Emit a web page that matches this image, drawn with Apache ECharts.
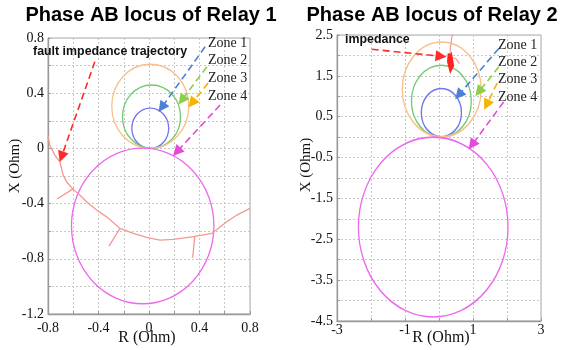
<!DOCTYPE html>
<html>
<head>
<meta charset="utf-8">
<script src="https://cdn.jsdelivr.net/npm/echarts@6/dist/echarts.min.js"></script>
<style>
  html, body { margin: 0; padding: 0; background: #fff; }
  #main { width: 561px; height: 350px; }
</style>
</head>
<body>
<div id="main"></div>
<script>
// mho zones: [centre R, centre X, radius] in Ohm
const zoneNames = ["Zone 1", "Zone 2", "Zone 3", "Zone 4"];
const zones1 = [[0.01, 0.146, 0.146], [0.02, 0.23, 0.23], [0.01, 0.305, 0.305], [-0.05, -0.562, 0.564]];
const zones2 = [[0.07, 0.6, 0.59], [0.07, 0.88, 0.88], [0.08, 1.17, 1.16], [-0.17, -2.2, 2.2]];

// fault impedance trajectory, relay 1
const traj1 = [[-0.8, 0.09], [-0.786, 0.024], [-0.746, -0.049], [-0.706, -0.097], [-0.68, -0.193],
  [-0.653, -0.242], [-0.601, -0.297], [-0.548, -0.338], [-0.495, -0.387], [-0.415, -0.447],
  [-0.336, -0.496], [-0.23, -0.58], [-0.124, -0.616], [-0.018, -0.645], [0.087, -0.664],
  [0.193, -0.659], [0.352, -0.64], [0.497, -0.616], [0.616, -0.532], [0.696, -0.483], [0.8, -0.435]];
const spurs1 = [
  [[-0.595, -0.29], [-0.728, -0.367]],
  [[-0.23, -0.58], [-0.317, -0.708]],
  [[0.362, -0.64], [0.346, -0.793]]
];
// relay 2 trajectory (thin part + dense red part)
const traj2 = [[0.4, 2.55], [0.36, 2.35], [0.33, 2.15], [0.33, 2.0]];
const curl2 = [[0.38, 1.95], [0.5, 1.92], [0.6, 1.8]];
const dense2 = [[0.3, 2.05], [0.28, 1.85], [0.34, 1.65], [0.4, 1.75], [0.36, 1.95], [0.3, 1.8]];

// pointer arrows [from, to]
const zoneArrows1 = [[[0.444, 0.736], [0.101, 0.297]], [[0.458, 0.591], [0.26, 0.35]],
  [[0.468, 0.473], [0.339, 0.328]], [[0.563, 0.314], [0.22, -0.025]]];
const faultArrow1 = [[-0.429, 0.628], [-0.693, -0.061]];
const zoneArrows2 = [[[1.76, 2.17], [0.58, 1.03]], [[1.76, 1.72], [1.17, 1.11]],
  [[1.71, 1.32], [1.4, 0.79]], [[1.9, 0.86], [0.97, -0.19]]];
const faultArrow2 = [[-1.98, 2.15], [0.06, 1.98]];

const zoneColors = ["#7373ee", "#72cc6e", "#f8c18a", "#ee68ee"];
const arrowColors = ["#4d80d8", "#8ccf4a", "#f5b400", "#e44ad8"];
const trajColor = "#f49890";
const serif = "'Liberation Serif', 'DejaVu Serif', serif";
const sans = "'Liberation Sans', Arial, sans-serif";

const chart = echarts.init(document.getElementById("main"), null, { renderer: "canvas" });

function zoneSeries(data, idx) {
  return {
    type: "custom",
    xAxisIndex: idx,
    yAxisIndex: idx,
    data: data,
    renderItem: function (params, api) {
      const c = api.coord([api.value(0), api.value(1)]);
      const s = api.size([api.value(2), api.value(2)]);
      return {
        type: "circle",
        x: c[0],
        y: c[1],
        scaleY: s[1] / s[0],
        shape: { cx: 0, cy: 0, r: s[0] },
        style: { fill: "none", stroke: zoneColors[params.dataIndex], lineWidth: 1.3, strokeNoScale: true }
      };
    },
    silent: true,
    z: 3
  };
}

function arrowSeries(list, colors, idx) {
  return {
    type: "lines",
    coordinateSystem: "cartesian2d",
    xAxisIndex: idx,
    yAxisIndex: idx,
    symbol: ["none", "triangle"],
    symbolSize: 11,
    data: list.map((a, i) => ({ coords: a, lineStyle: { color: colors[i] } })),
    lineStyle: { width: 1.6, type: [7, 4], opacity: 1 },
    silent: true,
    z: 5
  };
}

function trajSeries(lines, color, width, idx) {
  return {
    type: "lines",
    coordinateSystem: "cartesian2d",
    polyline: true,
    xAxisIndex: idx,
    yAxisIndex: idx,
    data: lines.map(l => ({ coords: l })),
    lineStyle: { color: color, width: width, opacity: 1 },
    silent: true,
    z: 4
  };
}

function valueAxis(idx, min, max, step, show, margin) {
  return {
    type: "value",
    gridIndex: idx,
    min: min,
    max: max,
    interval: step,
    axisLine: { show: true, onZero: false, lineStyle: { color: "#999", width: 1.3 } },
    axisTick: { show: true, inside: true, length: 3, lineStyle: { color: "#999" } },
    splitLine: { show: true, lineStyle: { color: "#c8c8c8", type: [2, 2], width: 1 } },
    axisLabel: {
      color: "#111",
      fontFamily: serif,
      fontSize: 14,
      margin: margin,
      formatter: v => (show(v) ? String(v) : "")
    }
  };
}

const isMult = (v, m) => Math.abs(v / m - Math.round(v / m)) < 1e-6;

const option = {
  animation: false,
  backgroundColor: "#fff",
  grid: [
    { left: 48, top: 38, width: 202, height: 276, show: true, borderColor: "#aaa", borderWidth: 1 },
    { left: 337, top: 35, width: 204, height: 286, show: true, borderColor: "#aaa", borderWidth: 1 }
  ],
  xAxis: [
    valueAxis(0, -0.8, 0.8, 0.2, v => isMult(v, 0.4), 7),
    valueAxis(1, -3, 3, 1, v => !isMult(v, 2), 2)
  ],
  yAxis: [
    valueAxis(0, -1.2, 0.8, 0.2, v => isMult(v, 0.4), 4),
    valueAxis(1, -4.5, 2.5, 0.5, v => !isMult(v, 1), 4)
  ],
  series: [
    zoneSeries(zones1, 0),
    trajSeries([traj1].concat(spurs1), trajColor, 1.3, 0),
    arrowSeries(zoneArrows1, arrowColors, 0),
    arrowSeries([faultArrow1], ["#ff2a2a"], 0),
    zoneSeries(zones2, 1),
    trajSeries([traj2, curl2], trajColor, 1.2, 1),
    trajSeries([dense2], "#ff2020", 3, 1),
    arrowSeries(zoneArrows2, arrowColors, 1),
    arrowSeries([faultArrow2], ["#ff2a2a"], 1)
  ],
  graphic: [
    { type: "text", x: 151, y: 15, style: { text: "Phase AB locus of Relay 1", font: "bold 20px " + sans, fill: "#000", align: "center", verticalAlign: "middle" } },
    { type: "text", x: 432, y: 15, style: { text: "Phase AB locus of Relay 2", font: "bold 20px " + sans, fill: "#000", align: "center", verticalAlign: "middle" } },
    { type: "text", x: 33, y: 52, style: { text: "fault impedance trajectory", font: "bold 12.4px " + sans, fill: "#111", verticalAlign: "middle" }, z: 10 },
    { type: "text", x: 345, y: 40, style: { text: "impedance", font: "bold 12.4px " + sans, fill: "#111", verticalAlign: "middle" }, z: 10 },
    { type: "text", x: 147, y: 338, style: { text: "R (Ohm)", font: "16px " + serif, fill: "#111", align: "center", verticalAlign: "middle" } },
    { type: "text", x: 441, y: 338, style: { text: "R (Ohm)", font: "16px " + serif, fill: "#111", align: "center", verticalAlign: "middle" } },
    { type: "text", x: 15, y: 166, rotation: Math.PI / 2, style: { text: "X (Ohm)", font: "15px " + serif, fill: "#111", align: "center", verticalAlign: "middle" } },
    { type: "text", x: 306, y: 165, rotation: Math.PI / 2, style: { text: "X (Ohm)", font: "15px " + serif, fill: "#111", align: "center", verticalAlign: "middle" } }
  ]
    .concat(zoneNames.map((n, i) => ({ type: "text", x: 208, y: 43 + i * 17.7, z: 10, style: { text: n, font: "14px " + serif, fill: "#222", verticalAlign: "middle" } })))
    .concat(zoneNames.map((n, i) => ({ type: "text", x: 498, y: 45 + i * 17.3, z: 10, style: { text: n, font: "14px " + serif, fill: "#222", verticalAlign: "middle" } })))
};

chart.setOption(option);
</script>
</body>
</html>
